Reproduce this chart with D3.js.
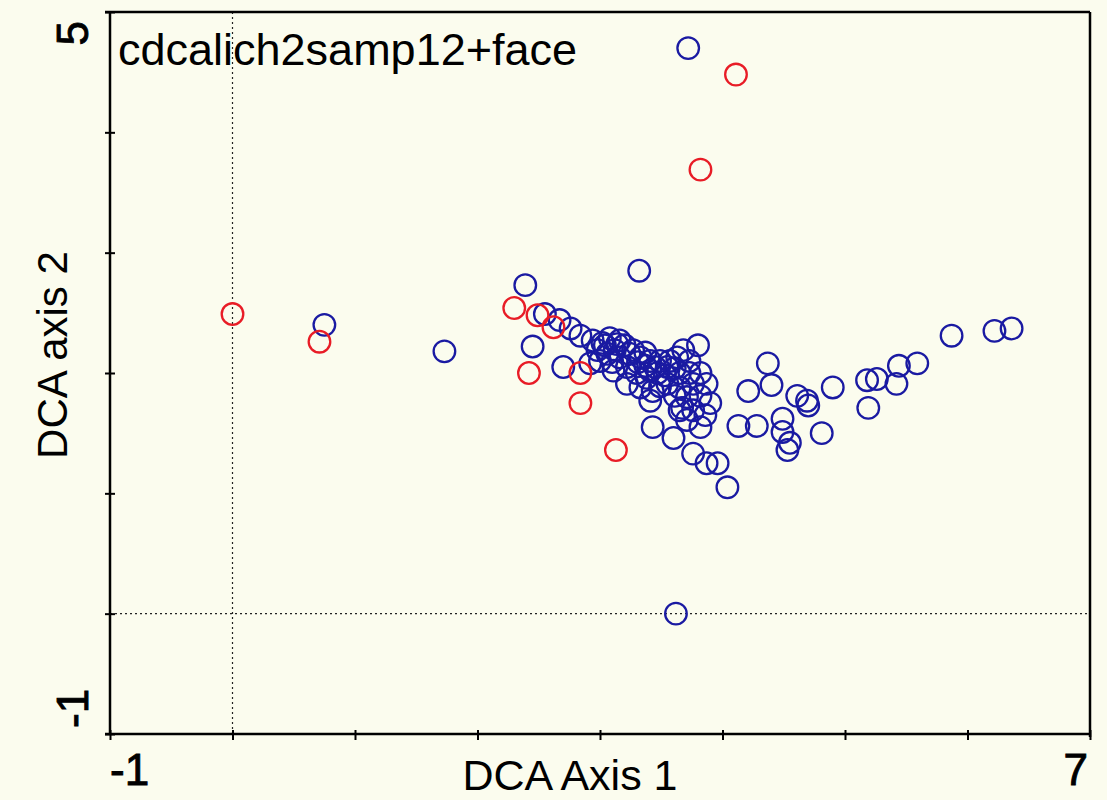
<!DOCTYPE html>
<html>
<head>
<meta charset="utf-8">
<script src="https://cdn.jsdelivr.net/npm/d3@7"></script>
<style>
  html, body { margin: 0; padding: 0; background: #fbfcee; }
  svg { display: block; }
  text { font-family: "Liberation Sans", Arial, sans-serif; fill: #000; }
</style>
</head>
<body>
<svg id="chart" width="1107" height="800"></svg>
<script>
// DCA sample scores: [axis 1, axis 2]
const blueSamples = [
  [3.72, 4.70], [3.32, 2.85], [2.39, 2.73], [0.75, 2.40], [1.73, 2.18],
  [3.62, 0.00], [2.45, 2.22], [2.70, 2.05],
  [2.55, 2.49], [2.67, 2.44], [2.76, 2.37], [2.84, 2.31], [2.94, 2.27],
  [3.02, 2.25], [3.14, 2.24], [2.98, 2.19], [3.06, 2.16], [3.16, 2.13],
  [3.24, 2.16], [3.33, 2.13], [3.41, 2.10], [3.49, 2.10], [3.57, 2.10],
  [3.22, 2.05], [3.30, 2.00], [3.38, 1.96], [3.47, 2.00], [3.55, 2.05],
  [3.65, 2.00], [3.73, 2.00], [3.82, 2.00], [3.80, 2.23], [3.22, 1.91],
  [3.33, 1.88], [3.43, 1.85], [3.55, 1.91], [3.65, 1.88], [3.76, 1.91],
  [3.87, 1.91], [3.90, 1.75], [3.71, 1.80], [3.65, 1.69], [3.76, 1.69],
  [3.71, 1.61], [3.82, 1.55], [3.43, 1.55], [3.60, 1.46], [3.76, 1.33],
  [3.87, 1.25], [3.96, 1.25], [4.04, 1.05], [3.11, 2.02], [3.00, 2.10],
  [3.73, 2.10], [3.63, 2.13], [3.68, 2.19], [2.92, 2.08], [3.08, 2.29],
  [3.16, 2.27], [3.27, 2.19], [3.41, 1.77], [3.67, 1.71], [3.37, 2.06],
  [3.49, 1.89], [3.61, 1.81], [3.82, 1.81], [3.86, 1.65],
  [3.04, 2.23], [3.12, 2.19], [3.20, 2.23], [3.37, 2.17], [3.45, 2.05],
  [3.53, 1.98], [3.61, 2.04], [3.10, 2.09], [3.31, 2.09], [3.41, 2.02],
  [4.37, 2.08], [4.21, 1.85], [4.40, 1.90], [4.61, 1.81], [4.69, 1.77],
  [4.70, 1.73], [4.90, 1.88], [5.18, 1.94], [5.26, 1.95], [5.44, 2.06],
  [5.59, 2.08], [5.42, 1.91], [5.19, 1.71], [5.87, 2.31], [6.22, 2.35],
  [6.36, 2.37], [4.13, 1.56], [4.28, 1.56], [4.49, 1.62], [4.49, 1.51],
  [4.55, 1.42], [4.53, 1.36], [4.81, 1.50]
];
const redSamples = [
  [0.00, 2.49], [0.71, 2.26], [4.11, 4.48], [3.82, 3.69], [2.30, 2.54],
  [2.49, 2.48], [2.62, 2.38], [2.42, 2.00], [2.84, 2.00], [2.84, 1.75],
  [3.13, 1.36]
];
const xDomain = [-1, 7];
const yDomain = [-1, 5];
const xTickLabels = ["-1", "7"];
const yTickLabels = ["-1", "5"];
const chartTitle = "cdcalich2samp12+face";
const xTitle = "DCA Axis 1";
const yTitle = "DCA axis 2";

const svg = d3.select("#chart");
const plotLeft = 110, plotRight = 1090, plotTop = 12, plotBottom = 734;

const x = d3.scaleLinear().domain(xDomain).range([plotLeft, plotRight]);
const y = d3.scaleLinear().domain(yDomain).range([plotBottom, plotTop]);

svg.append("rect").attr("width", 1107).attr("height", 800).attr("fill", "#fbfcee");

// zero reference lines
svg.append("line")
  .attr("x1", x(0)).attr("x2", x(0)).attr("y1", plotTop).attr("y2", plotBottom)
  .attr("stroke", "#222").attr("stroke-width", 1.2).attr("stroke-dasharray", "2,3");
svg.append("line")
  .attr("x1", plotLeft).attr("x2", plotRight).attr("y1", y(0)).attr("y2", y(0))
  .attr("stroke", "#222").attr("stroke-width", 1.2).attr("stroke-dasharray", "2,3");

// frame
const frame = svg.append("g").attr("stroke", "#000").attr("stroke-width", 2.5).attr("fill", "none");
frame.append("line").attr("x1", plotLeft - 5).attr("x2", plotRight).attr("y1", plotTop).attr("y2", plotTop);
frame.append("line").attr("x1", plotRight).attr("x2", plotRight).attr("y1", plotTop).attr("y2", plotBottom + 3);

// axes with ticks crossing the axis line
const yAxis = svg.append("g").attr("transform", `translate(${plotLeft},0)`)
  .call(d3.axisLeft(y).ticks(6).tickSizeInner(5).tickSizeOuter(0).tickFormat(""));
yAxis.selectAll(".tick line").attr("x1", 5).attr("x2", -5);
const xAxis = svg.append("g").attr("transform", `translate(0,${plotBottom})`)
  .call(d3.axisBottom(x).ticks(8).tickSizeInner(6).tickSizeOuter(0).tickFormat(""));
xAxis.selectAll(".tick line").attr("y1", -4).attr("y2", 6);
[yAxis, xAxis].forEach(a => {
  a.select(".domain").attr("stroke", "#000").attr("stroke-width", 2.5);
  a.selectAll(".tick line").attr("stroke", "#000").attr("stroke-width", 2);
});
yAxis.select(".domain").attr("d", `M0,${plotTop}V${plotBottom}`);
xAxis.select(".domain").attr("d", `M${plotLeft - 5},0H${plotRight}`);

// points
const pts = svg.append("g").attr("fill", "none").attr("stroke-width", 2.3);
pts.selectAll("circle.b").data(blueSamples).join("circle")
  .attr("class", "b").attr("cx", d => x(d[0])).attr("cy", d => y(d[1])).attr("r", 10.8)
  .attr("stroke", "#1a1aa2");
pts.selectAll("circle.r").data(redSamples).join("circle")
  .attr("class", "r").attr("cx", d => x(d[0])).attr("cy", d => y(d[1])).attr("r", 10.8)
  .attr("stroke", "#e81c26");

// titles and end tick labels
svg.append("text").attr("x", 118).attr("y", 65).attr("font-size", 45).text(chartTitle);
svg.append("text").attr("x", (plotLeft + plotRight) / 2 - 30).attr("y", 790)
  .attr("text-anchor", "middle").attr("font-size", 43).text(xTitle);
svg.append("text").attr("transform", `translate(67,355) rotate(-90)`)
  .attr("text-anchor", "middle").attr("font-size", 42).text(yTitle);

const tickText = (sel) => sel.attr("font-size", 44).attr("stroke", "#000").attr("stroke-width", 0.9);
svg.append("text").attr("x", x(xDomain[0])).attr("y", 785).call(tickText).text(xTickLabels[0]);
svg.append("text").attr("x", x(xDomain[1]) - 2).attr("y", 785).attr("text-anchor", "end")
  .call(tickText).text(xTickLabels[1]);
svg.append("text").attr("transform", `translate(88,${y(yDomain[0]) - 6}) rotate(-90)`)
  .call(tickText).text(yTickLabels[0]);
svg.append("text").attr("transform", `translate(88,${y(yDomain[1]) + 9}) rotate(-90)`)
  .attr("text-anchor", "end").call(tickText).text(yTickLabels[1]);
</script>
</body>
</html>
